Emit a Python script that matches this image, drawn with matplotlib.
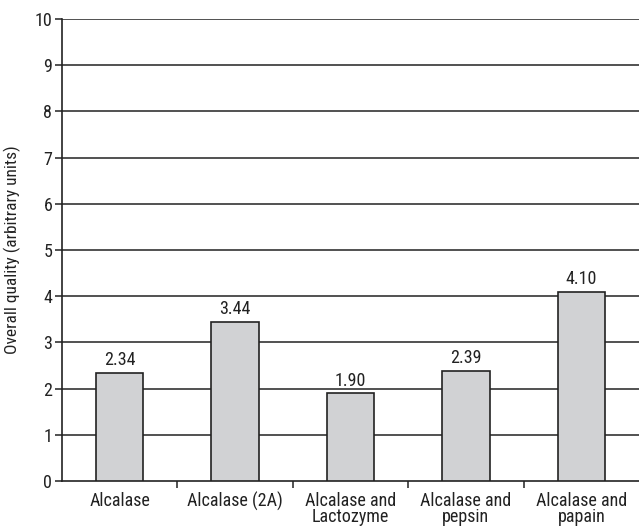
import matplotlib
matplotlib.use("Agg")
import matplotlib.pyplot as plt

categories = ["Alcalase", "Alcalase (2A)", "Alcalase and\nLactozyme", "Alcalase and\npepsin", "Alcalase and\npapain"]
values = [2.34, 3.44, 1.90, 2.39, 4.10]
value_labels = ["2.34", "3.44", "1.90", "2.39", "4.10"]
yticks = list(range(0, 11))

plt.rcParams['font.family'] = ["Roboto Condensed", "DejaVu Sans"]

fig = plt.figure(figsize=(6.39, 5.29), dpi=100)
ax = fig.add_axes([62/639, 1 - 481/529, 1 - 62/639, (481 - 19)/529])

x = list(range(len(categories)))
for yv in yticks[1:]:
    ax.axhline(yv, color="#222222", lw=1.1, zorder=1)
ax.bar(x, values, width=0.41, color="#d1d2d4", edgecolor="#222222", linewidth=1.2, zorder=3)
for xi, v, lab in zip(x, values, value_labels):
    ax.text(xi, v + 0.08, lab, ha="center", va="bottom", fontsize=13, color="#222222")

ax.set_xlim(-0.5, len(categories) - 0.5)
ax.set_ylim(0, 10)
ax.set_yticks(yticks)
ax.set_yticklabels([str(t) for t in yticks], fontsize=13, color="#222222")
ax.set_xticks(x)
ax.set_xticklabels(categories, fontsize=13, color="#222222", linespacing=0.82)
ax.tick_params(axis="x", length=0, pad=8)
ax.set_xticks([i + 0.5 for i in range(len(categories) - 1)], minor=True)
ax.tick_params(axis="x", which="minor", length=5, width=1.1, color="#222222", direction="out")
ax.tick_params(axis="y", length=5, width=1.1, color="#222222", pad=2)
for s in ["top", "right"]:
    ax.spines[s].set_visible(False)
for s in ["left", "bottom"]:
    ax.spines[s].set_color("#222222")
    ax.spines[s].set_linewidth(1.2)
ax.set_ylabel("Overall quality (arbitrary units)", fontsize=12.5, color="#222222", labelpad=10)

fig.savefig("out.png", dpi=100)
